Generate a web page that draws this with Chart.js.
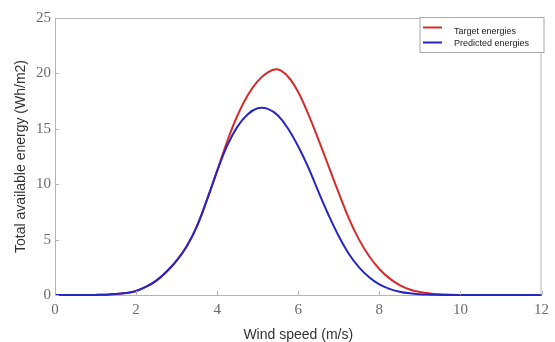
<!DOCTYPE html>
<html><head><meta charset="utf-8">
<script src="https://cdn.jsdelivr.net/npm/chart.js@4"></script>
<style>html,body{margin:0;padding:0;background:#fff}#wrap{width:555px;height:342px}</style>
</head><body><div id="wrap"><canvas id="c" width="555" height="342"></canvas></div>
<script>
const windSpeed = [0,0.25,0.5,0.75,1,1.25,1.5,1.75,2,2.25,2.5,2.75,3,3.25,3.5,3.75,4,4.25,4.5,4.75,5,5.25,5.5,5.75,6,6.25,6.5,6.75,7,7.25,7.5,7.75,8,8.25,8.5,8.75,9,9.25,9.5,9.75,10,10.5,11,11.5,12];
const targetEnergy = [0,0,0,0,0.01,0.03,0.08,0.18,0.36,0.75,1.3,2.1,3.1,4.4,6.2,8.6,11.2,13.9,16.2,18.0,19.3,20.1,20.35,19.7,18.3,16.3,14.0,11.6,9.2,6.9,5.0,3.5,2.35,1.5,0.9,0.5,0.27,0.13,0.06,0.03,0.01,0,0,0,0];
const predictedEnergy = [0,0,0,0,0.01,0.03,0.08,0.18,0.36,0.75,1.3,2.1,3.1,4.4,6.2,8.6,11.2,13.5,15.2,16.3,16.85,16.8,16.2,15.0,13.4,11.5,9.3,7.2,5.3,3.7,2.5,1.6,0.95,0.55,0.3,0.15,0.07,0.03,0.01,0,0,0,0,0,0];
const seriesNames = ['Target energies','Predicted energies'];
const seriesColors = ['#d42b2b','#2626c4'];
const xTickValues = [0,2,4,6,8,10,12];
const yTickValues = [0,5,10,15,20,25];

const toPts = ys => windSpeed.map((x,i)=>({x, y: ys[i]}));
const axisGray = '#b4b4b4';

const frame = {
  id:'frame',
  afterDraw(chart){
    const {ctx, chartArea:a, scales:{x,y}} = chart;
    ctx.save();
    ctx.strokeStyle = axisGray; ctx.lineWidth = 1;
    ctx.beginPath();
    ctx.moveTo(a.left, a.top+0.5); ctx.lineTo(a.right, a.top+0.5);
    ctx.moveTo(a.right-0.5, a.top); ctx.lineTo(a.right-0.5, a.bottom);
    ctx.stroke();
    ctx.beginPath();
    xTickValues.forEach(v=>{const px=Math.round(x.getPixelForValue(v))+0.5; ctx.moveTo(px,a.bottom); ctx.lineTo(px,a.bottom-4);});
    yTickValues.forEach(v=>{const py=Math.round(y.getPixelForValue(v))+0.5; ctx.moveTo(a.left,py); ctx.lineTo(a.left+4,py);});
    ctx.stroke();
    // legend box
    const bx = a.right - 121.5, by = a.top - 0.5, bw = 124, bh = 35;
    ctx.fillStyle = '#fff'; ctx.fillRect(bx, by, bw, bh);
    ctx.strokeStyle = '#a8a8a8'; ctx.strokeRect(bx, by, bw, bh);
    ctx.font = '9px "Liberation Sans", Arial, sans-serif';
    ctx.textBaseline = 'middle'; ctx.textAlign = 'left';
    const rows = [[10,14],[25,26]];
    chart.data.datasets.slice().sort((p,q)=>p.legendIndex-q.legendIndex).forEach((ds,i)=>{
      const [ly,ty] = rows[i];
      ctx.strokeStyle = ds.borderColor; ctx.lineWidth = 2;
      ctx.beginPath(); ctx.moveTo(bx+3, by+ly); ctx.lineTo(bx+22, by+ly); ctx.stroke();
      ctx.fillStyle = '#222';
      ctx.fillText(ds.label, bx+34, by+ty);
    });
    ctx.restore();
  }
};

new Chart(document.getElementById('c'), {
  type:'line',
  data:{
    datasets:[
      {label:seriesNames[0], data:toPts(targetEnergy), borderColor:seriesColors[0], borderWidth:2, pointRadius:0, tension:0.4, fill:false, order:2, legendIndex:0, clip:4},
      {label:seriesNames[1], data:toPts(predictedEnergy), borderColor:seriesColors[1], borderWidth:2, pointRadius:0, tension:0.4, fill:false, order:1, legendIndex:1, clip:4}
    ]
  },
  options:{
    responsive:false, animation:false, devicePixelRatio:1,
    layout:{padding:{top:18,right:12,left:0,bottom:0}},
    plugins:{legend:{display:false}, tooltip:{enabled:false}},
    scales:{
      x:{type:'linear', min:0, max:12,
        afterFit(s){s.height=47;},
        afterBuildTicks(s){s.ticks = xTickValues.map(v=>({value:v}));},
        grid:{display:false, drawTicks:false},
        border:{display:true, color:axisGray, width:1},
        ticks:{padding:6, color:'#6a6a6a', font:{family:'"Liberation Serif", "Times New Roman", serif', size:15}},
        title:{display:true, text:'Wind speed (m/s)', color:'#333', padding:{top:0,bottom:-2}, font:{family:'"Liberation Sans", Arial, sans-serif', size:14}}
      },
      y:{type:'linear', min:0, max:25,
        afterFit(s){s.width=55;},
        afterBuildTicks(s){s.ticks = yTickValues.map(v=>({value:v}));},
        grid:{display:false, drawTicks:false},
        border:{display:true, color:axisGray, width:1},
        ticks:{padding:4, color:'#6a6a6a', font:{family:'"Liberation Serif", "Times New Roman", serif', size:15}},
        title:{display:true, text:'Total available energy (Wh/m2)', color:'#333', padding:{top:13,bottom:0}, font:{family:'"Liberation Sans", Arial, sans-serif', size:14}}
      }
    }
  },
  plugins:[frame]
});
</script>
</body></html>
